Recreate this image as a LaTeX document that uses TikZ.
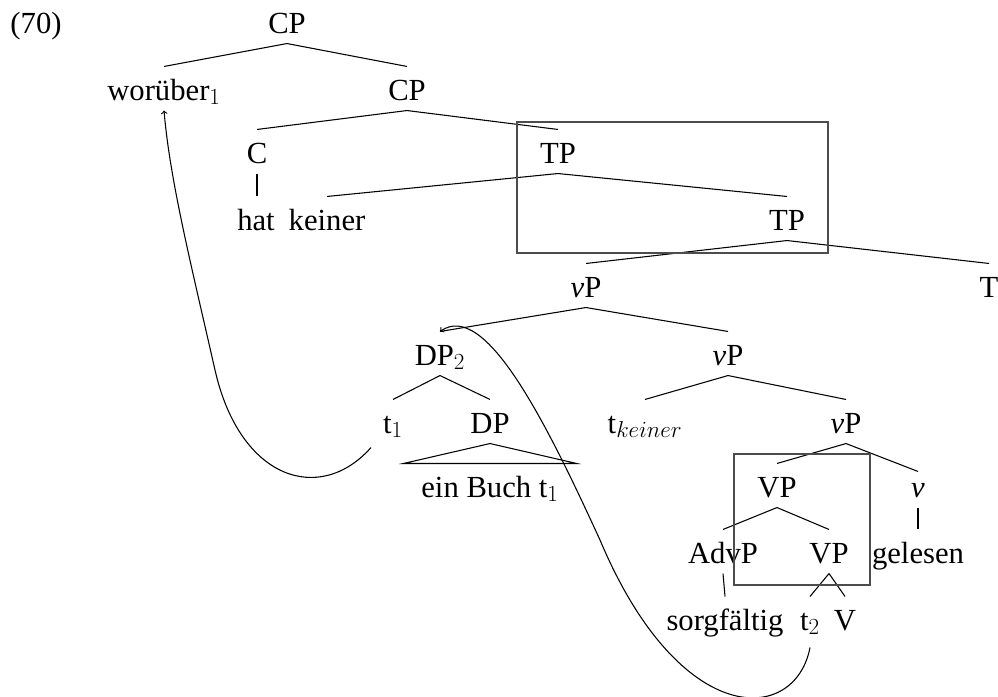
\documentclass[tikz,border=0pt]{standalone}
\usepackage{fontspec}
\setmainfont{Liberation Serif}
\usetikzlibrary{calc}

\begin{document}
\begin{tikzpicture}[x=0.75pt,y=-0.75pt,line width=0.8pt,
  font=\fontsize{23}{27}\selectfont,
  cat/.style={inner sep=0pt, text height=24.75pt, text depth=7.5pt, anchor=base}]
\useasboundingbox (0,0) rectangle (998,696);
% labels, row by row
\node[cat] (ex) at (36,33) {(70)};
\node[cat] (cp) at (287,33) {CP};
\node[cat] (wor) at (164,100) {worüber$_1$};
\node[cat] (cpb) at (407,100) {CP};
\node[cat] (c) at (257,163) {C};
\node[cat] (tp) at (558,163) {TP};
\node[cat] (hat) at (256,230) {hat};
\node[cat] (keiner) at (327,230) {keiner};
\node[cat] (tpb) at (787,230) {TP};
\node[cat] (vp) at (586,297) {\textit{v}P};
\node[cat] (t) at (989,297) {T};
\node[cat] (dp) at (440,365) {DP$_2$};
\node[cat] (vpb) at (728,365) {\textit{v}P};
\node[cat] (ta) at (393,433) {t$_1$};
\node[cat] (dpb) at (490,433) {DP};
\node[cat] (tk) at (645,433) {t$_{keiner}$};
\node[cat] (vpc) at (846,433) {\textit{v}P};
\node[cat, minimum width=129pt] (buch) at (490,497) {ein Buch t$_1$};
\node[cat] (VP) at (777,497) {VP};
\node[cat] (v) at (918,497) {\textit{v}};
\node[cat] (advp) at (723,563) {AdvP};
\node[cat] (VPb) at (829,563) {VP};
\node[cat] (gel) at (918,563) {gelesen};
\node[cat] (sorg) at (725,630) {sorgfältig};
\node[cat] (tb) at (810,630) {t$_2$};
\node[cat] (V) at (845,630) {V};
% branches
\draw (cp.south) -- (wor.north);
\draw (cp.south) -- (cpb.north);
\draw (cpb.south) -- (c.north);
\draw (cpb.south) -- (tp.north);
\draw (c.south) -- (hat.north -| c.south);
\draw (tp.south) -- (keiner.north);
\draw (tp.south) -- (tpb.north);
\draw (tpb.south) -- (vp.north);
\draw (tpb.south) -- (t.north);
\draw (vp.south) -- (dp.north);
\draw (vp.south) -- (vpb.north);
\draw (dp.south) -- (ta.north);
\draw (dp.south) -- (dpb.north);
\draw (vpb.south) -- (tk.north);
\draw (vpb.south) -- (vpc.north);
\draw (dpb.south) -- (buch.north west) -- (buch.north east) -- cycle;
\draw (vpc.south) -- (VP.north);
\draw (vpc.south) -- ($(v.north)+(0,8)$);
\draw (VP.south) -- (advp.north);
\draw (VP.south) -- (VPb.north);
\draw (v.south) -- (gel.north);
\draw (advp.south) -- (sorg.north);
\draw (VPb.south) -- (tb.north);
\draw (VPb.south) -- (V.north);
% boxes
\draw[black!70] (517,122) rectangle (828,253);
\draw[black!70] (734,454) rectangle (870,585);
% movement
\draw[->] ($(ta.south)+(-22,4)$) .. controls (320,505) and (240,480) .. (215,370)
  .. controls (190,260) and (170,180) .. (wor.south);
\draw[->] ($(tb.south)+(0,7)$) .. controls (795,725) and (680,730) .. (600,540)
  .. controls (545,420) and (485,300) .. (dp.north);
\end{tikzpicture}
\end{document}
